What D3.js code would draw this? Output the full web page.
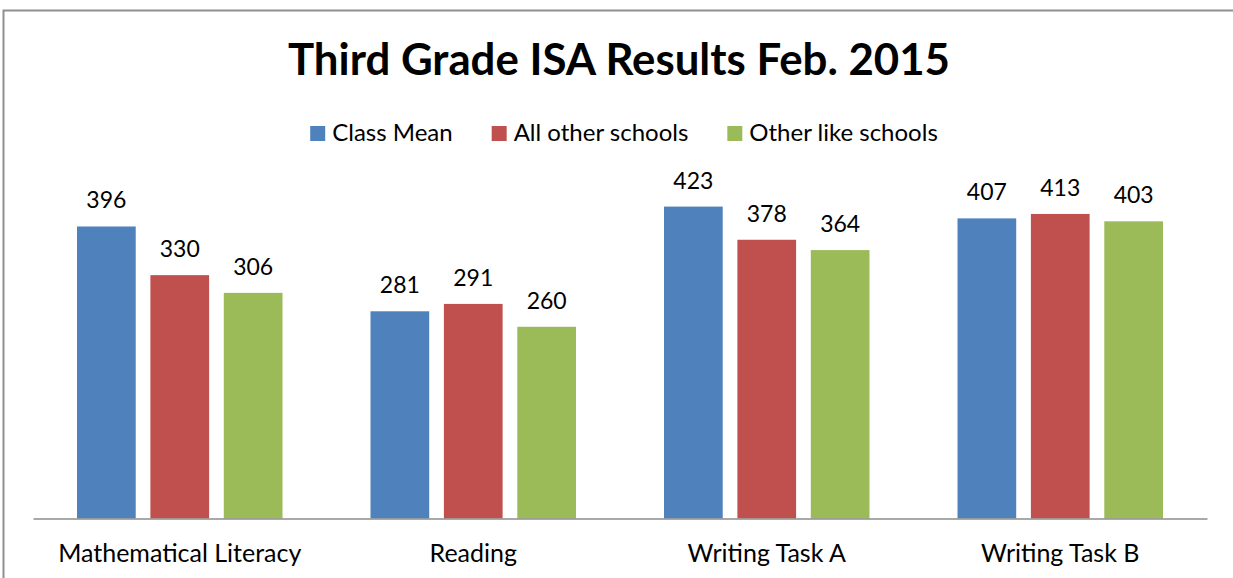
<!DOCTYPE html>
<html>
<head>
<meta charset="utf-8">
<script src="https://cdn.jsdelivr.net/npm/d3@7/dist/d3.min.js"></script>
<style>
html,body{margin:0;padding:0;background:#fff;}
svg{display:block;}
text{font-family:Lato,"Liberation Sans",sans-serif;fill:#000;}
</style>
</head>
<body>
<svg id="chart" width="1233" height="578"></svg>
<script>
const categories = ["Mathematical Literacy", "Reading", "Writing Task A", "Writing Task B"];
const seriesNames = ["Class Mean", "All other schools", "Other like schools"];
const classMean = [396, 281, 423, 407];
const allOtherSchools = [330, 291, 378, 413];
const otherLikeSchools = [306, 260, 364, 403];
const colors = ["#4F81BD", "#C0504D", "#9BBB59"];
const titleText = "Third Grade ISA Results Feb. 2015";

const seriesValues = [classMean, allOtherSchools, otherLikeSchools];
const W = 1233, H = 578;
const svg = d3.select("#chart");

// outer frame
svg.append("rect").attr("x", 3.5).attr("y", 10.5).attr("width", W + 10).attr("height", H + 10)
  .attr("fill", "#fff").attr("stroke", "#8f8f8f").attr("stroke-width", 2);

const plotLeft = 33, plotRight = 1207, baseY = 518.5;
const x0 = d3.scaleBand().domain(categories).range([plotLeft, plotRight]).paddingInner(0).paddingOuter(0);
const groupPad = 44;
const x1 = d3.scaleBand().domain(seriesNames).range([groupPad, x0.bandwidth() - groupPad]).paddingInner(0.2).paddingOuter(0);
const y = d3.scaleLinear().domain([0, 500]).range([baseY, baseY - 500 * 0.7374]);

// title
svg.append("text").attr("x", 619).attr("y", 75).attr("text-anchor", "middle")
  .style("font-weight", "bold").style("font-size", "44px")
  .attr("textLength", 662).attr("lengthAdjust", "spacingAndGlyphs").text(titleText);

// bars
const groups = svg.append("g").selectAll("g").data(categories).join("g")
  .attr("transform", d => `translate(${x0(d)},0)`);
groups.each(function(cat, ci) {
  const g = d3.select(this);
  seriesNames.forEach((s, si) => {
    const v = seriesValues[si][ci];
    g.append("rect").attr("x", x1(s)).attr("y", y(v)).attr("width", x1.bandwidth())
      .attr("height", y(0) - y(v)).attr("fill", colors[si]);
    g.append("text").attr("x", x1(s) + x1.bandwidth() / 2).attr("y", y(v) - 18)
      .attr("text-anchor", "middle").style("font-size", "23px").text(v);
  });
});

// axis
const xAxis = d3.axisBottom(x0).tickSize(0).tickPadding(0);
const axG = svg.append("g").attr("transform", `translate(0,${baseY})`).call(xAxis);
axG.select(".domain").attr("stroke", "#8c8c8c").attr("stroke-width", 1.5);
axG.selectAll(".tick text").attr("dy", null).attr("y", 43.5)
  .style("font-size", "25px").style("font-family", "Lato, 'Liberation Sans', sans-serif").attr("fill", "#000");

// legend
const legend = svg.append("g");
let lx = 0;
seriesNames.forEach((s, i) => {
  const it = legend.append("g").attr("transform", `translate(${lx},0)`);
  it.append("rect").attr("x", 0).attr("y", 126).attr("width", 15).attr("height", 15).attr("fill", colors[i]);
  const t = it.append("text").attr("x", 22).attr("y", 141).style("font-size", "24px").text(s);
  const w = 22 + t.node().getComputedTextLength();
  lx += w + 39;
});
const totalW = lx - 39;
legend.attr("transform", `translate(${624 - totalW / 2},0)`);
</script>
</body>
</html>
